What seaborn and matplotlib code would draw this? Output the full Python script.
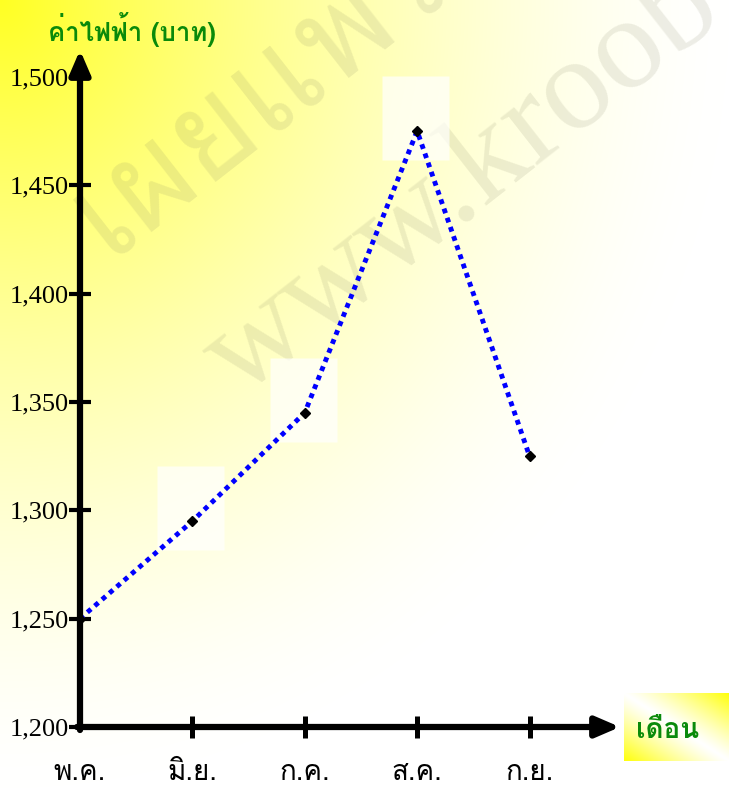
import numpy as np
import matplotlib
matplotlib.use('Agg')
import matplotlib.pyplot as plt
import matplotlib.font_manager as fm
from matplotlib.ft2font import FT2Font
import seaborn as sns

# ข้อมูลค่าไฟฟ้ารายเดือน
months = ['พ.ค.', 'มิ.ย.', 'ก.ค.', 'ส.ค.', 'ก.ย.']
bills = [1250, 1295, 1345, 1475, 1325]
y_ticks = [1200, 1250, 1300, 1350, 1400, 1450, 1500]
y_title = 'ค่าไฟฟ้า (บาท)'
x_title = 'เดือน'
watermark_th = 'เผยแพร่'
watermark_url = 'www.kroob'

sns.set_style('white')


def find_thai_font():
    # หาฟอนต์ที่มีอักษรไทย
    for f in fm.fontManager.ttflist:
        try:
            cmap = FT2Font(f.fname).get_charmap()
        except Exception:
            continue
        if 0x0E04 in cmap and 0x0E1E in cmap and 0x0E48 in cmap:
            return f.name
    return None


thai = find_thai_font()
thai_family = [thai, 'DejaVu Sans'] if thai else ['DejaVu Sans']
serif_family = ['Liberation Serif', 'DejaVu Serif']
plt.rcParams['font.family'] = thai_family

W, H = 729, 788
fig = plt.figure(figsize=(W / 100, H / 100), dpi=100)

# พื้นหลังไล่สีเหลือง-ขาว
bg = fig.add_axes([0, 0, 1, 1], zorder=-5)
yy, xx = np.mgrid[0:H, 0:W]
d = np.sqrt((xx / W) ** 2 + (yy / H) ** 2)
blue = 255 - 220 * np.clip(1 - d / 1.0, 0, 1) ** 1.5
img = np.dstack([np.full_like(blue, 255), np.full_like(blue, 255), blue]) / 255
bg.imshow(img, extent=[0, 1, 0, 1], aspect='auto', origin='upper')
bg.set_xlim(0, 1)
bg.set_ylim(0, 1)
bg.axis('off')

# ลายน้ำ
bg.text(108 / W, 1 - 258 / H, watermark_th, rotation=38, rotation_mode='anchor',
        ha='left', va='baseline', fontsize=95, color='#808060', alpha=0.14,
        family=thai_family, clip_on=True)
bg.text(240 / W, 1 - 398 / H, watermark_url, rotation=38, rotation_mode='anchor',
        ha='left', va='baseline', fontsize=95, color='#808060', alpha=0.14,
        family=serif_family, clip_on=True)

# กล่องคำว่า เดือน
bx = fig.add_axes([624 / W, (H - 761) / H, 105 / W, 68 / H], zorder=-4)
v, u = np.mgrid[0:1:68j, 0:1:105j]
k = np.abs(u - v) ** 1.2
box = np.dstack([np.ones_like(k), np.ones_like(k), 1 - 0.95 * k])
bx.imshow(box, extent=[0, 1, 0, 1], aspect='auto', origin='upper')
bx.axis('off')
fig.text(668 / W, 1 - 730 / H, x_title, ha='center', va='center', fontsize=20,
         fontweight='bold', color='#0a8a0a', family=thai_family)

# แกนหลัก
ax = fig.add_axes([80 / W, (H - 727) / H, 540 / W, 677 / H])
ax.set_facecolor('none')
for s in ax.spines.values():
    s.set_visible(False)

xpos = np.arange(len(months))
ax.set_xlim(0, 4.805)
ax.set_ylim(1200, 1512.4)

# พื้นขาวจาง ๆ ใต้จุดข้อมูล
rect = [(-35, -29), (32, -29), (32, 55), (-35, 55), (-35, -29)]
ax.plot(xpos[1:4], bills[1:4], marker=rect, ms=79, mfc='white', mec='none',
        alpha=0.7, ls='none', zorder=1)

sns.lineplot(x=xpos, y=bills, ax=ax, color='#0000ff', lw=3.5,
             linestyle=(0, (1, 1)), zorder=3)
ax.plot(xpos, bills, ls='none', marker='D', ms=5, color='black', zorder=4)

# เส้นแกนพร้อมหัวลูกศร
arrow = dict(arrowstyle='-|>,head_length=0.65,head_width=0.28', lw=4.5,
             color='black', mutation_scale=22, shrinkA=0, shrinkB=0)
ax.annotate('', xy=(0, 1), xytext=(0, -3 / 677), xycoords='axes fraction',
            textcoords='axes fraction', arrowprops=arrow, zorder=5)
ax.annotate('', xy=(1, 0), xytext=(-3 / 540, 0), xycoords='axes fraction',
            textcoords='axes fraction', arrowprops=arrow, zorder=5)

ax.set_yticks(y_ticks)
ax.set_yticklabels([f'{t:,}' for t in y_ticks], family=serif_family, fontsize=19)
ax.set_xticks(xpos)
ax.set_xticklabels(months, fontsize=20, family=thai_family)
ax.tick_params(axis='y', left=True, direction='inout', length=16, width=3,
               pad=0, colors='black')
ax.tick_params(axis='x', bottom=True, direction='inout', length=16, width=3.6,
               pad=16, colors='black')
ax.xaxis.get_major_ticks()[0].tick1line.set_visible(False)
ax.set_xlabel('')
ax.set_ylabel('')

fig.text(132 / W, 1 - 30 / H, y_title, ha='center', va='center', fontsize=18.5,
         fontweight='bold', color='#0a8a0a', family=thai_family)

fig.savefig('out.png', dpi=100)
